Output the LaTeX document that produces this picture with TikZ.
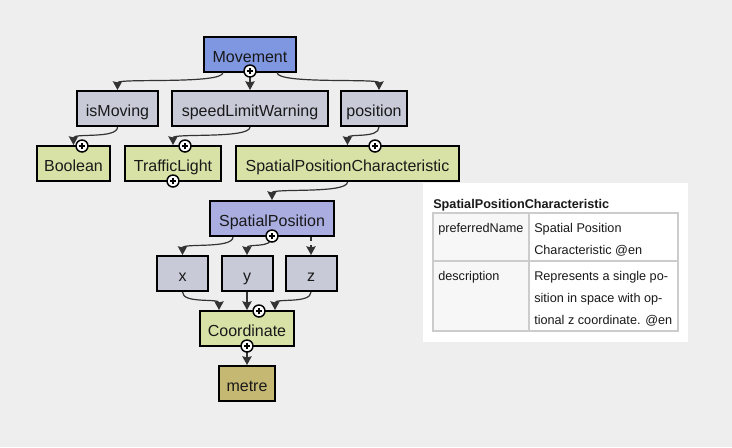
\documentclass[tikz,border=0pt]{standalone}
\usepackage{fontspec}
\setmainfont{Liberation Sans}
\usetikzlibrary{arrows.meta,calc}
\definecolor{bggray}{HTML}{EEEEEE}
\definecolor{entblue}{HTML}{7F96E0}
\definecolor{propgray}{HTML}{C8CAD8}
\definecolor{chrgreen}{HTML}{D9E2A6}
\definecolor{spblue}{HTML}{AAADDF}
\definecolor{unitkhaki}{HTML}{C4B872}
\definecolor{gridgray}{HTML}{CCCCCC}
\definecolor{cellgray}{HTML}{F7F7F7}
\begin{document}
\begin{tikzpicture}[
    x=0.75pt,y=-0.75pt,
    every node/.style={font=\fontsize{12}{14}\selectfont, text=black!90},
    box/.style={draw=black, line width=1.5pt, minimum height=26.25pt, inner sep=0pt, text height=12pt, text depth=0pt},
    entity/.style={box, fill=entblue},
    prop/.style={box, fill=propgray},
    chr/.style={box, fill=chrgreen},
    link/.style={draw=black!80, line width=0.9pt, -{Stealth[length=6.5pt,width=7pt,inset=0.8pt]}},
    plus/.style={circle, draw=black, line width=1.1pt, fill=white, inner sep=0pt, minimum size=9pt,
        path picture={\draw[line width=1.2pt]
            ([xshift=-2.6pt]path picture bounding box.center) -- ([xshift=2.6pt]path picture bounding box.center)
            ([yshift=-2.6pt]path picture bounding box.center) -- ([yshift=2.6pt]path picture bounding box.center);}},
    cell/.style={anchor=north west, inner sep=0pt, align=left, font=\fontsize{9.5}{16.5}\selectfont}
]
    \fill[bggray] (0,0) rectangle (732,447);
    \useasboundingbox (0,0) rectangle (732,447);

    \node[entity, minimum width=69pt] (mv) at (250,54) {Movement};

    \node[prop, minimum width=60.75pt] (im) at (117.5,108.5) {isMoving};
    \node[prop, minimum width=117pt] (slw) at (250,108.5) {speedLimitWarning};
    \node[prop, minimum width=49.5pt] (pos) at (374,108.5) {position};

    \node[chr, minimum width=54.75pt] (bo) at (73.5,163.5) {Boolean};
    \node[chr, minimum width=72pt] (tl) at (173,163.5) {TrafficLight};
    \node[chr, minimum width=167.25pt] (spc) at (347.5,163.5) {SpatialPositionCharacteristic};

    \node[box, fill=spblue, minimum width=93pt] (sp) at (272,218.5) {SpatialPosition};

    \node[prop, minimum width=38.25pt] (x) at (182.5,273.5) {x};
    \node[prop, minimum width=38.25pt] (y) at (247,273.5) {y};
    \node[prop, minimum width=38.25pt] (z) at (311,273.5) {z};

    \node[chr, minimum width=70.5pt] (co) at (247,328.5) {Coordinate};
    \node[box, fill=unitkhaki, minimum width=42pt] (me) at (247,383.5) {metre};

    \draw[link] ($(mv.south)+(-27,0)$) .. controls +(0,12) and +(0,-12) .. (im.north);
    \draw[link] (mv.south) -- (slw.north);
    \draw[link] ($(mv.south)+(27,0)$) .. controls +(0,12) and +(0,-12) .. ($(pos.north)+(5,0)$);
    \draw[link] (im.south) .. controls +(0,12) and +(0,-12) .. (bo.north);
    \draw[link] (slw.south) .. controls +(0,12) and +(0,-12) .. (tl.north);
    \draw[link] ($(pos.south)+(5,0)$) .. controls +(0,12) and +(0,-12) .. (spc.north);
    \draw[link] (spc.south) .. controls +(0,12) and +(0,-12) .. (sp.north);
    \draw[link] ($(sp.south)+(-39,0)$) .. controls +(0,12) and +(0,-12) .. (x.north);
    \draw[link] (sp.south) .. controls +(0,12) and +(0,-12) .. (y.north);
    \draw[link, dashed] ($(sp.south)+(39,0)$) -- (z.north);
    \draw[link] (x.south) .. controls +(0,12) and +(0,-12) .. ($(co.north)+(-28,0)$);
    \draw[link] (y.south) -- (co.north);
    \draw[link] (z.south) .. controls +(0,12) and +(0,-12) .. ($(co.north)+(28,0)$);
    \draw[link] (co.south) -- (me.north);

    \node[plus] (mvp) at (250,71) {};
    \node[plus] (bop) at (82,146) {};
    \node[plus] (tlp) at (185,146) {};
    \node[plus] (tlq) at (173,181) {};
    \node[plus] (spcp) at (375,146) {};
    \node[plus] (spp) at (272,236) {};
    \node[plus] (cop) at (259,311) {};
    \node[plus] (coq) at (247,346) {};

    \fill[white] (423,183) rectangle (688,342);
    \node[anchor=base west, inner sep=0pt, font=\bfseries\fontsize{9.5}{11}\selectfont] (tiptitle) at (433,208) {SpatialPositionCharacteristic};
    \filldraw[fill=cellgray, draw=gridgray, line width=1.5pt] (433,213) rectangle (529,331);
    \draw[gridgray, line width=1.5pt] (529,213) rectangle (678,331) (433,261) -- (678,261);
    \node[cell] (pnk) at (438,223) {preferredName};
    \node[cell] (pnv) at (534,223) {Spatial Position\\Characteristic @en};
    \node[cell] (dsk) at (438,271) {description};
    \node[cell] (dsv) at (534,271) {Represents a single po-\\sition in space with op-\\tional z coordinate. @en};
\end{tikzpicture}
\end{document}
